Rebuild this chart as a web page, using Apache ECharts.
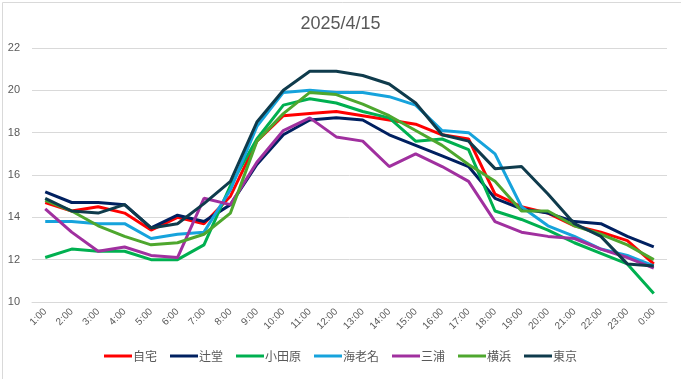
<!DOCTYPE html>
<html>
<head>
<meta charset="utf-8">
<script src="https://cdn.jsdelivr.net/npm/echarts@6/dist/echarts.min.js"></script>
<style>html,body{margin:0;padding:0;background:#fff;}#c{width:681px;height:379px;}</style>
</head>
<body>
<div id="c"></div>
<script>
const title = '2025/4/15';
const categories = ['1:00','2:00','3:00','4:00','5:00','6:00','7:00','8:00','9:00','10:00','11:00','12:00','13:00','14:00','15:00','16:00','17:00','18:00','19:00','20:00','21:00','22:00','23:00','0:00'];
const seriesNames = ['自宅','辻堂','小田原','海老名','三浦','横浜','東京'];
const jitaku   = [14.7,14.3,14.5,14.2,13.4,14.0,13.7,15.0,17.6,18.8,18.9,19.0,18.8,18.6,18.4,17.9,17.7,15.1,14.5,14.2,13.6,13.3,12.9,11.8];
const tsujido  = [15.2,14.7,14.7,14.6,13.5,14.1,13.8,14.6,16.5,17.9,18.6,18.7,18.6,17.9,17.4,16.9,16.4,14.9,14.4,14.2,13.8,13.7,13.1,12.6];
const odawara  = [12.1,12.5,12.4,12.4,12.0,12.0,12.7,15.5,17.7,19.3,19.6,19.4,19.0,18.7,17.6,17.7,17.2,14.3,13.9,13.4,12.8,12.3,11.8,10.4];
const ebina    = [13.8,13.8,13.7,13.7,13.0,13.2,13.3,15.3,18.3,19.9,20.0,19.9,19.9,19.7,19.3,18.1,18.0,17.0,14.5,13.6,13.1,12.5,12.2,11.7];
const miura    = [14.4,13.3,12.4,12.6,12.2,12.1,14.9,14.6,16.6,18.1,18.7,17.8,17.6,16.4,17.0,16.4,15.7,13.8,13.3,13.1,13.0,12.5,12.1,11.6];
const yokohama = [14.8,14.3,13.6,13.1,12.7,12.8,13.2,14.2,17.6,18.9,19.9,19.8,19.35,18.8,18.1,17.4,16.5,15.7,14.3,14.3,13.6,13.2,12.7,12.0];
const tokyo    = [14.9,14.3,14.2,14.6,13.5,13.7,14.65,15.7,18.5,20.0,20.9,20.9,20.7,20.3,19.4,17.9,17.6,16.3,16.4,15.1,13.7,13.1,11.8,11.7];
const yTicks = {min: 10, max: 22, interval: 2};

const seriesData = [jitaku, tsujido, odawara, ebina, miura, yokohama, tokyo];
const colors = ['#ff0000','#002060','#00b050','#16a3dc','#a0309f','#4ea72e','#0f3b4c'];

const chart = echarts.init(document.getElementById('c'));
chart.setOption({
  animation: false,
  textStyle: {fontFamily: 'Liberation Sans, Noto Sans CJK JP, sans-serif'},
  title: {
    text: title, left: 'center', top: 10,
    textStyle: {fontSize: 18, fontWeight: 'normal', color: '#595959', fontFamily: 'Liberation Sans, sans-serif'}
  },
  graphic: [{
    type: 'rect', left: 0, top: 0,
    shape: {x: 0.5, y: 0.5, width: 680, height: 378},
    style: {fill: 'none', stroke: '#d9d9d9', lineWidth: 1},
    silent: true, z: -1
  }],
  grid: {left: 32, right: 14, top: 48, bottom: 77},
  legend: {
    bottom: 12, left: 'center',
    itemWidth: 28, itemHeight: 3, itemGap: 13,
    icon: 'rect',
    textStyle: {fontSize: 12, color: '#595959', fontFamily: 'Noto Sans CJK JP, sans-serif', padding: [0,0,0,-4]},
    data: seriesNames
  },
  xAxis: {
    type: 'category', data: categories, boundaryGap: true,
    axisLine: {show: true, lineStyle: {color: '#d9d9d9'}},
    axisTick: {show: false},
    axisLabel: {rotate: 45, fontSize: 10, color: '#595959', margin: 8, interval: 0}
  },
  yAxis: {
    type: 'value', min: yTicks.min, max: yTicks.max, interval: yTicks.interval,
    axisLine: {show: false}, axisTick: {show: false},
    axisLabel: {fontSize: 11, color: '#595959', margin: 12},
    splitLine: {lineStyle: {color: '#d9d9d9'}}
  },
  series: seriesNames.map((n, i) => ({
    name: n, type: 'line', data: seriesData[i],
    showSymbol: false, symbol: 'none',
    lineStyle: {width: 3, color: colors[i]},
    itemStyle: {color: colors[i]}
  }))
});
</script>
</body>
</html>
